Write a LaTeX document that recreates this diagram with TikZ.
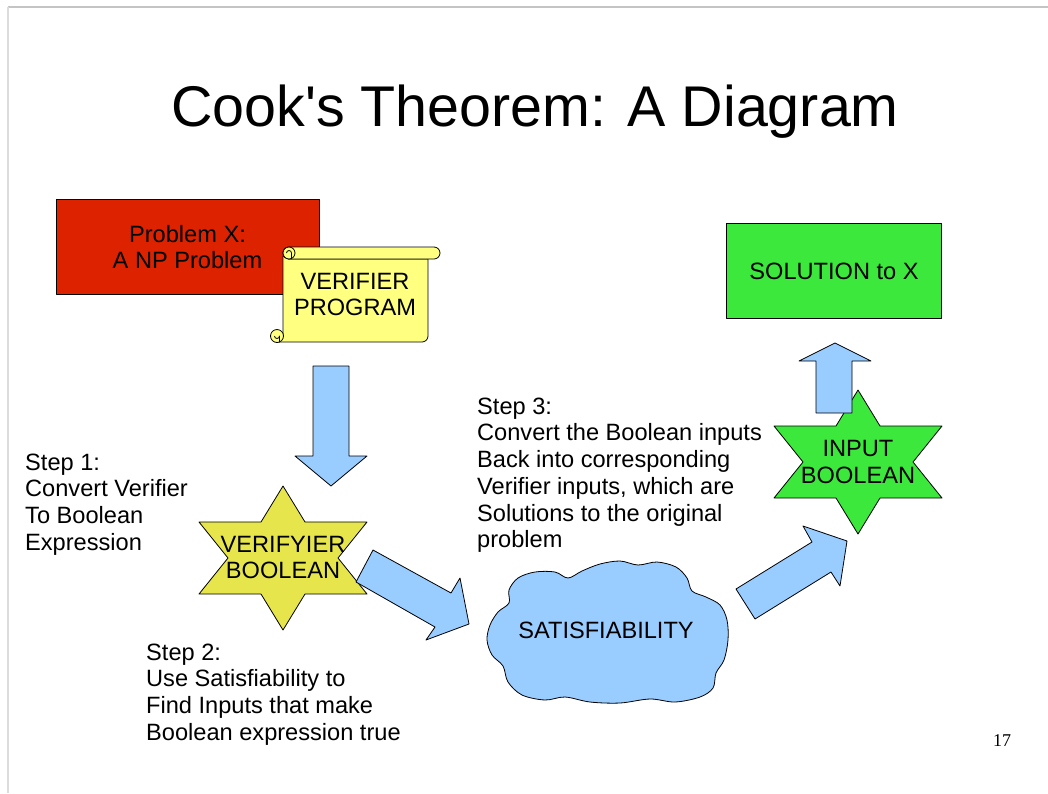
\documentclass[tikz,border=0pt]{standalone}
\usepackage{fontspec}
\setmainfont{Liberation Sans}
\newfontfamily\titlefont{Liberation Sans}
\newfontfamily\pagenumfont{Liberation Serif}
\definecolor{probred}{HTML}{DD2200}
\definecolor{scrollyellow}{HTML}{FFFF80}
\definecolor{staryellow}{HTML}{E6E64C}
\definecolor{solgreen}{HTML}{3CE83C}
\definecolor{arrowblue}{HTML}{99CCFF}
\definecolor{framegray}{HTML}{C4C4C4}
\definecolor{framegraylight}{HTML}{DCDCDC}
\tikzset{
  outline/.style={draw=black, line width=0.8pt, line join=round},
  blockarrow/.style={outline, fill=arrowblue},
  lbl/.style={font=\fontsize{23.6}{26.7}\selectfont, inner sep=0pt, align=center},
  steptext/.style={font=\fontsize{23.6}{26.7}\selectfont, inner sep=0pt, align=left, anchor=north west},
  sixstar/.pic={
    \path[pic actions] (0,-72) -- (22,-36) -- (84,-36) -- (55,0) -- (84,36) -- (22,36)
      -- (0,72) -- (-22,36) -- (-84,36) -- (-55,0) -- (-84,-36) -- (-22,-36) -- cycle;
  }
}
\begin{document}
\begin{tikzpicture}[x=1pt, y=-1pt]
% y grows downwards, so arc angles of 90 point down and 270 point up
\useasboundingbox (0,0) rectangle (1048,793);
\fill[white] (0,0) rectangle (1048,793);

% slide frame
\draw[framegray, line width=1.2pt] (8,7) -- (1048,7);
\draw[framegraylight, line width=1.6pt] (8,7) -- (8,793);

% title
\node[font=\titlefont\fontsize{57.4}{60}\selectfont, inner sep=0pt, anchor=base] (title) at (535,126) {Cook's Theorem: A Diagram};

% problem box
\node[outline, fill=probred, minimum width=263pt, minimum height=95pt, inner sep=0pt] (problem) at (187.5,246.5) {};
\node[lbl] (problemtxt) at (187.5,247) {Problem X:\\A NP Problem};

% verifier scroll: body, top roll and the two curls
\filldraw[outline, fill=scrollyellow]
  (283,256) -- (283,336) -- (277,342) -- (422,342) arc (90:0:6) -- (428,259) -- (289,259) -- cycle;
\filldraw[outline, fill=scrollyellow]
  (289,247) -- (434,247) arc (270:450:6) -- (289,259) arc (90:270:6) -- cycle;
\filldraw[outline, fill=scrollyellow] (289,253) circle (6pt);
\draw[outline] (286.5,253) arc (180:360:2.5) -- (291.5,259);
\filldraw[outline, fill=scrollyellow] (277,336) circle (6.5pt);
\draw[outline] (274.5,336) arc (180:0:2.5) -- (279.5,342);
\node[lbl] (verifier) at (355,294.5) {VERIFIER\\PROGRAM};

% down arrow from verifier to boolean expression
\filldraw[blockarrow] (313,366) -- (349,366) -- (349,456) -- (367,456) -- (331,486)
  -- (295,456) -- (313,456) -- cycle;

% verifier boolean star
\pic[outline, fill=staryellow] at (283,558) {sixstar};
\node[lbl] (vbool) at (283,557.5) {VERIFYIER\\BOOLEAN};

% arrow to satisfiability
\filldraw[blockarrow] (373,550) -- (451,593) -- (460,578) -- (469,624) -- (426,640)
  -- (435,627) -- (356,582) -- cycle;

% satisfiability cloud
\filldraw[outline, fill=arrowblue] plot[smooth cycle, tension=0.55] coordinates {
  (490,625) (487,640) (492,655) (503,666) (508,682) (522,695) (545,700) (565,697)
  (590,702) (620,703) (650,699) (675,702) (700,697) (713,688) (716,673) (724,660)
  (728,640) (727,620) (720,605) (706,597) (692,591) (687,578) (676,567) (657,562)
  (638,565) (620,561) (600,564) (582,571) (568,578) (555,572) (535,572) (518,578)
  (509,590) (509,603) (498,612)};
\node[lbl] (sat) at (606,630) {SATISFIABILITY};

% arrow to input boolean
\filldraw[blockarrow] (736,589) -- (812,542) -- (803,526) -- (847,541) -- (840,586)
  -- (831,572) -- (755,619) -- cycle;

% input boolean star
\pic[outline, fill=solgreen] at (858,462) {sixstar};
\node[lbl] (ibool) at (858,462) {INPUT\\BOOLEAN};

% up arrow to solution
\filldraw[blockarrow] (816,413) -- (816,361) -- (799,361) -- (835,343) -- (871,361)
  -- (852,361) -- (852,413) -- cycle;

% solution box
\node[outline, fill=solgreen, minimum width=215pt, minimum height=95pt, inner sep=0pt] (solution) at (833.5,270.5) {};
\node[lbl] (soltxt) at (834,271) {SOLUTION to X};

% step descriptions
\node[steptext] (step1) at (25,453.6) {Step 1:\\Convert Verifier\\To Boolean\\Expression};
\node[steptext] (step2) at (146,643.6) {Step 2:\\Use Satisfiability to\\Find Inputs that make\\Boolean expression true};
\node[steptext] (step3) at (477,397.6) {Step 3:\\Convert the Boolean inputs\\Back into corresponding\\Verifier inputs, which are\\Solutions to the original\\problem};

% page number
\node[font=\pagenumfont\fontsize{18}{20}\selectfont, inner sep=0pt, anchor=base] (pagenum) at (1002,746) {17};
\end{tikzpicture}
\end{document}
